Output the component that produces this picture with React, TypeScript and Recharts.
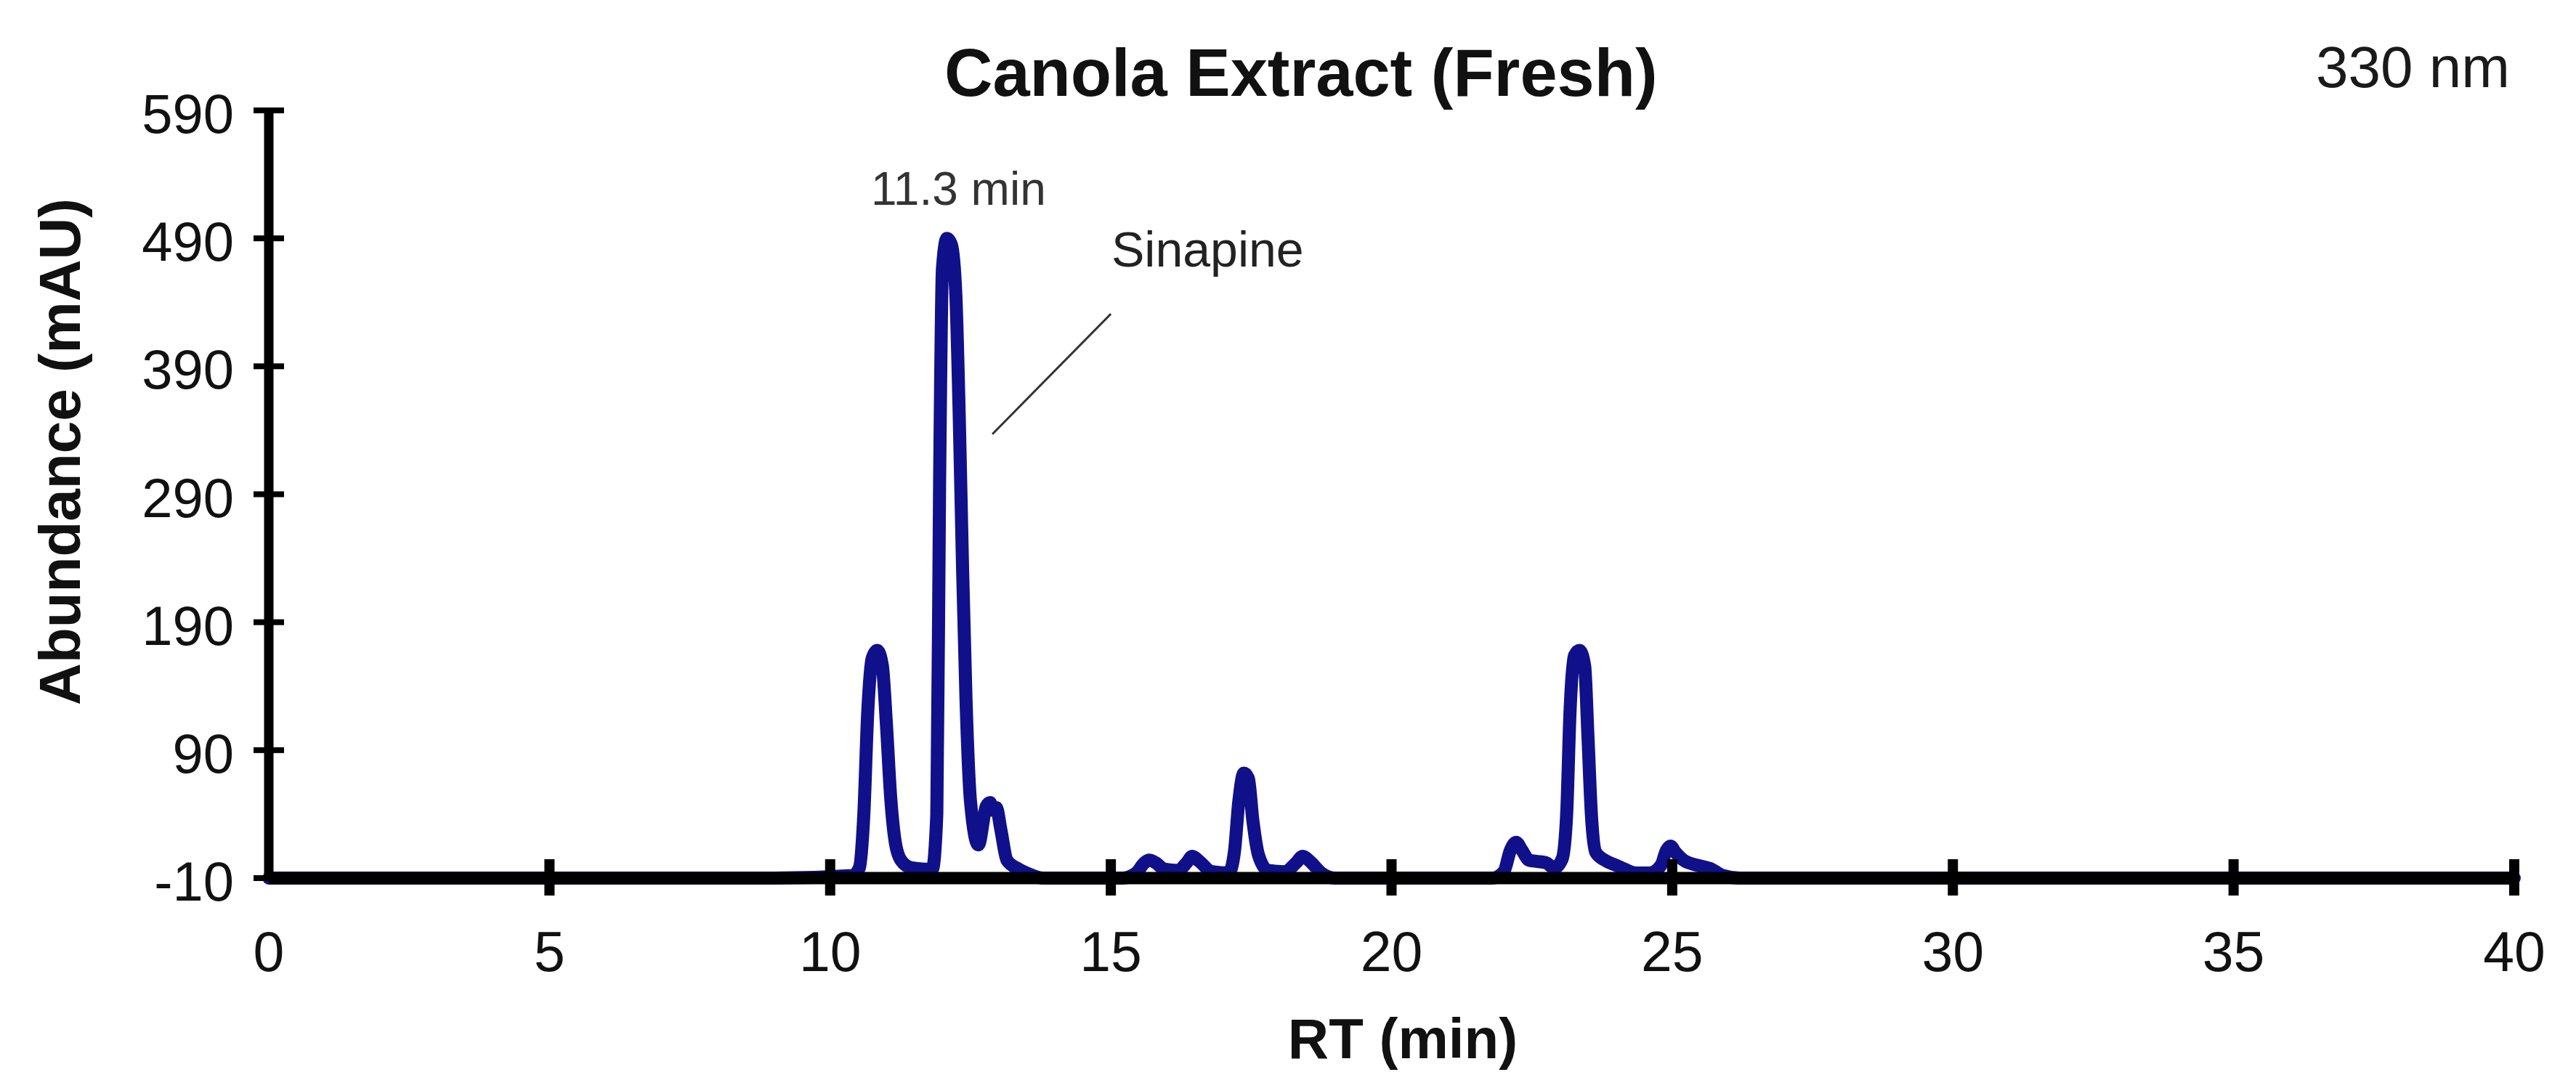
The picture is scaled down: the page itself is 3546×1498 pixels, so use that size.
import React from 'react';
import { LineChart, Line, XAxis, YAxis, ReferenceLine } from 'recharts';

const FONT = '"Liberation Sans", Arial, sans-serif';
const TRACE_COLOR = '#10108a';

// retention time (min)
const RT_MIN = [
  0, 5, 9, 10.4, 10.52, 10.6, 10.67, 10.75, 10.84, 10.93, 11.0, 11.08, 11.16, 11.26, 11.45, 11.7,
  11.82, 11.9, 11.95, 12.0, 12.08, 12.16, 12.24, 12.3, 12.36, 12.42, 12.5, 12.64,
  12.78, 12.85, 12.9, 12.96, 13.04, 13.15, 13.36, 13.5, 13.8,
  15.2, 15.45, 15.6, 15.68, 15.8, 15.95, 16.2, 16.35, 16.45, 16.58, 16.8,
  17.1, 17.2, 17.28, 17.37, 17.45, 17.53, 17.63, 17.8, 18.1, 18.3, 18.42, 18.55, 18.75, 19.0,
  21.8, 22.0, 22.12, 22.22, 22.32, 22.45, 22.6, 22.75, 22.9, 23.04,
  23.12, 23.18, 23.26, 23.35, 23.44, 23.5, 23.56, 23.64, 23.8, 24.0, 24.15, 24.35,
  24.6, 24.8, 24.9, 24.97, 25.06, 25.2, 25.45, 25.7, 25.9, 26.2, 30, 35, 40,
];

// abundance at 330 nm (mAU), same order as RT_MIN
const ABUNDANCE = [
  -10, -10, -10, -8, -2, 40, 120, 162, 168, 156, 112, 52, 18, 4, -2, -3,
  -3, 40, 300, 466, 490, 485, 445, 350, 230, 130, 50, 16,
  46, 49, 43, 45, 28, 4, -3, -6, -10,
  -10, -6, 2, 4, 2, -3, -4, 2, 7, 3, -5,
  -6, 10, 50, 72, 68, 35, 8, -4, -5, 2, 7, 3, -6, -10,
  -10, -5, 12, 18, 12, 4, 3, 2, -2, 5,
  40, 120, 164, 168, 156, 100, 40, 10, 4, 0, -3, -6,
  -6, 0, 12, 15, 10, 4, 0, -3, -8, -10, -10, -10, -10,
];

const X_TICKS = [0, 5, 10, 15, 20, 25, 30, 35, 40];
const Y_TICKS = [-10, 90, 190, 290, 390, 490, 590];

// leader line from the "Sinapine" label down to the main peak
const SINAPINE_LEADER = [
  { x: 15.0, y: 431 },
  { x: 12.89, y: 337 },
];

const data = RT_MIN.map((rt, i) => ({ rt, mau: ABUNDANCE[i] }));

const XTick = (props: any) => {
  const { x, y, payload } = props;
  return (
    <g>
      {payload.value !== 0 && <rect x={x - 7} y={y - 26} width={14} height={50} fill="#000" />}
      <text x={x} y={y + 128} textAnchor="middle" fontSize={77} fill="#111" fontFamily={FONT}>
        {payload.value}
      </text>
    </g>
  );
};

const YTick = (props: any) => {
  const { x, y, payload } = props;
  return (
    <g>
      <rect x={x - 21} y={y - 4} width={42} height={8} fill="#000" />
      <text x={x - 48} y={y + 31} textAnchor="end" fontSize={76} fill="#111" fontFamily={FONT}>
        {payload.value}
      </text>
    </g>
  );
};

const W = 3538;
const H = 1490;

export default function App() {
  return (
    <div style={{ position: 'relative', width: W, height: H, background: '#fff' }}>
      <LineChart
        width={W}
        height={H}
        data={data}
        margin={{ top: 144, right: 85, bottom: 139, left: 162 }}
      >
        <Line
          type="monotone"
          dataKey="mau"
          stroke={TRACE_COLOR}
          strokeWidth={18}
          strokeLinejoin="round"
          strokeLinecap="round"
          dot={false}
          activeDot={false}
          isAnimationActive={false}
        />
        <ReferenceLine segment={SINAPINE_LEADER} stroke="#333" strokeWidth={3} ifOverflow="visible" />
        <XAxis
          dataKey="rt"
          type="number"
          domain={[0, 40]}
          ticks={X_TICKS}
          interval={0}
          height={150}
          axisLine={{ stroke: '#000', strokeWidth: 17 }}
          tickLine={false}
          tickSize={0}
          tickMargin={0}
          tick={<XTick />}
        />
        <YAxis
          type="number"
          domain={[-10, 590]}
          ticks={Y_TICKS}
          interval={0}
          width={200}
          axisLine={{ stroke: '#000', strokeWidth: 13 }}
          tickLine={false}
          tickSize={0}
          tickMargin={0}
          tick={<YTick />}
        />
      </LineChart>
      <svg
        width={W}
        height={H}
        style={{ position: 'absolute', left: 0, top: 0, pointerEvents: 'none' }}
        fontFamily={FONT}
      >
        <text x={1292} y={124} fontSize={92} fontWeight="bold" fill="#111">
          Canola Extract (Fresh)
        </text>
        <text x={3180} y={112} fontSize={80} fill="#1a1a1a">
          330 nm
        </text>
        <text x={1191} y={274} fontSize={64} fill="#333">
          11.3 min
        </text>
        <text x={1522} y={359} fontSize={68} fill="#222">
          Sinapine
        </text>
        <text
          x={102}
          y={614}
          fontSize={80}
          fontWeight="bold"
          fill="#111"
          textAnchor="middle"
          transform="rotate(-90, 102, 614)"
        >
          Abundance (mAU)
        </text>
        <text x={1923} y={1449} fontSize={78} fontWeight="bold" fill="#111" textAnchor="middle">
          RT (min)
        </text>
      </svg>
    </div>
  );
}
